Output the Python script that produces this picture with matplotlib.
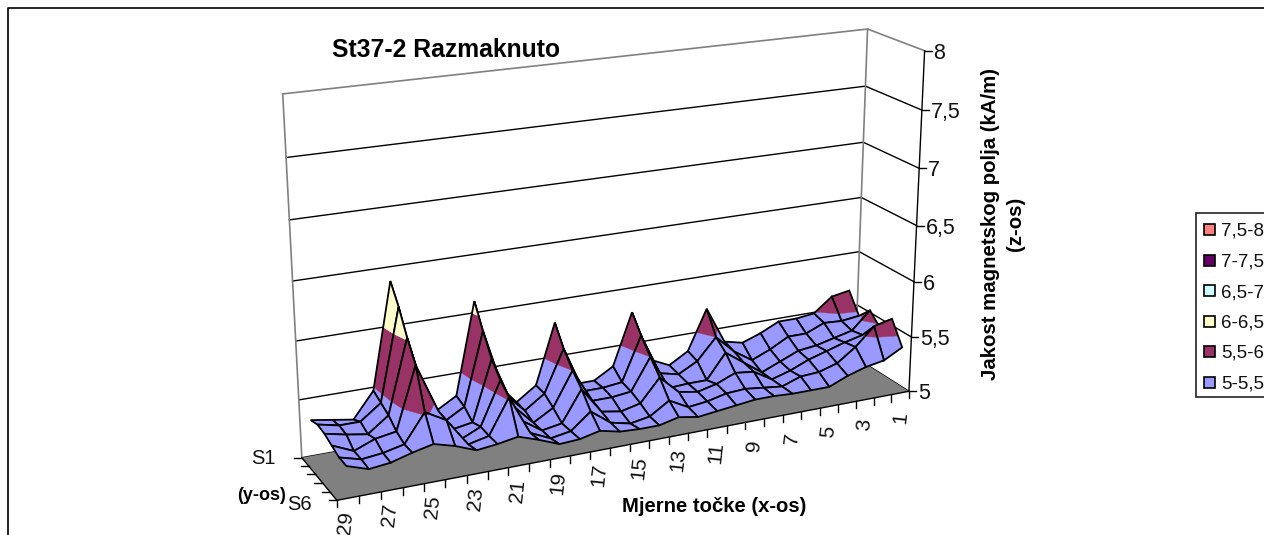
import numpy as np
import matplotlib
matplotlib.use("Agg")
import matplotlib.pyplot as plt
from matplotlib.patches import Polygon, Rectangle

plt.rcParams['font.family'] = ['Liberation Sans', 'DejaVu Sans']

# measuring points, left to right (29 ... 1)
x_points = list(range(29, 0, -1))
s1 = [5.31, 5.28, 5.25, 5.47, 6.38, 5.30, 5.20, 5.30, 6.10, 5.35, 5.15, 5.27, 5.80, 5.22, 5.22,
      5.32, 5.78, 5.32, 5.24, 5.34, 5.70, 5.37, 5.33, 5.39, 5.47, 5.47, 5.49, 5.62, 5.65]
s2 = [5.34, 5.30, 5.30, 5.43, 6.22, 5.30, 5.17, 5.27, 5.90, 5.32, 5.14, 5.26, 5.63, 5.22, 5.22,
      5.24, 5.63, 5.26, 5.22, 5.31, 5.50, 5.34, 5.23, 5.30, 5.39, 5.39, 5.46, 5.45, 5.47]
s3 = [5.33, 5.29, 5.26, 5.39, 6.02, 5.35, 5.17, 5.20, 5.72, 5.28, 5.10, 5.20, 5.50, 5.20, 5.20,
      5.22, 5.50, 5.19, 5.20, 5.20, 5.42, 5.30, 5.18, 5.25, 5.32, 5.34, 5.38, 5.42, 5.58]
s4 = [5.30, 5.22, 5.29, 5.32, 5.85, 5.43, 5.15, 5.23, 5.60, 5.22, 5.10, 5.13, 5.40, 5.17, 5.14,
      5.18, 5.38, 5.22, 5.19, 5.23, 5.30, 5.28, 5.18, 5.23, 5.30, 5.35, 5.40, 5.44, 5.47]
s5 = [5.27, 5.22, 5.24, 5.28, 5.52, 5.42, 5.18, 5.22, 5.52, 5.18, 5.10, 5.13, 5.27, 5.14, 5.10,
      5.13, 5.24, 5.15, 5.17, 5.21, 5.22, 5.20, 5.18, 5.24, 5.25, 5.30, 5.42, 5.58, 5.62]
s6 = [5.27, 5.21, 5.23, 5.28, 5.32, 5.27, 5.20, 5.22, 5.25, 5.19, 5.12, 5.13, 5.17, 5.13, 5.12,
      5.12, 5.16, 5.13, 5.15, 5.17, 5.19, 5.19, 5.18, 5.18, 5.18, 5.25, 5.30, 5.33, 5.42]
rows = [s1, s2, s3, s4, s5, s6]

z_ticks = [5, 5.5, 6, 6.5, 7, 7.5, 8]
z_labels = ['5', '5,5', '6', '6,5', '7', '7,5', '8']
bands = ['5-5,5', '5,5-6', '6-6,5', '6,5-7', '7-7,5', '7,5-8']
band_colors = ['#9999FF', '#993366', '#FFFFCC', '#CCFFFF', '#660066', '#FF8080']

# box corners on the picture, used to fit the perspective camera
box_uvw = [(0, 0, 0), (1, 0, 0), (0, 1, 0), (1, 1, 0), (0, 1, 1), (1, 1, 1), (1, 0, 1), (0, 1, .5), (1, 0, .5)]
box_px = [(337, 501), (908, 391), (302, 457), (856, 358), (283, 94), (867, 29), (925, 51), (292, 281), (917, 225)]


def fit_camera(uvw, px):
    """Least squares fit of the 3x4 projection matrix."""
    A, b = [], []
    for (u, v, w), (x, y) in zip(uvw, px):
        A.append([u, v, w, 1, 0, 0, 0, 0, -x * u, -x * v, -x * w])
        b.append(x)
        A.append([0, 0, 0, 0, u, v, w, 1, -y * u, -y * v, -y * w])
        b.append(y)
    p = np.linalg.lstsq(np.array(A, float), np.array(b, float), rcond=None)[0]
    return np.append(p, 1).reshape(3, 4)


cam = fit_camera(box_uvw, box_px)


def proj(u, v, z):
    """Chart coordinates to picture pixels."""
    h = cam @ np.array([u, v, (z - 5) / 3, 1])
    return h[0] / h[2], h[1] / h[2]


def clip(poly, lo, hi):
    """Cut a polygon of (u, v, z) points to the band lo..hi."""
    for sign, lim in ((1, lo), (-1, hi)):
        out = []
        for k in range(len(poly)):
            a, b = poly[k], poly[(k + 1) % len(poly)]
            da, db = sign * (a[2] - lim), sign * (b[2] - lim)
            if da >= 0:
                out.append(a)
            if da * db < 0:
                t = da / (da - db)
                out.append(tuple(a[m] + t * (b[m] - a[m]) for m in range(3)))
        poly = out
        if not poly:
            break
    return poly


fig = plt.figure(figsize=(12.64, 5.35), dpi=100)
ax = fig.add_axes([0, 0, 1, 1])
ax.set_xlim(0, 1264)
ax.set_ylim(535, 0)
ax.axis('off')

# chart border
ax.plot([8, 8, 1264], [535, 8, 8], color='black', lw=1.2)

# walls
for z in z_ticks[:-1]:
    pts = [proj(0, 1, z), proj(1, 1, z), proj(1, 0, z)]
    ax.plot(*zip(*pts), color='black', lw=1)
pts = [proj(0, 1, 8), proj(1, 1, 8), proj(1, 0, 8)]
ax.plot(*zip(*pts), color='#808080', lw=1.2)
ax.plot(*zip(proj(0, 1, 5), proj(0, 1, 8)), color='#808080', lw=1.2)
ax.plot(*zip(proj(1, 1, 5), proj(1, 1, 8)), color='#808080', lw=1.2)

# floor
floor = [proj(0, 0, 5), proj(1, 0, 5), proj(1, 1, 5), proj(0, 1, 5)]
ax.add_patch(Polygon(floor, closed=True, fc='#808080', ec='none', zorder=2))
ax.plot(*zip(proj(0, 0, 5), proj(1, 0, 5)), color='black', lw=1, zorder=3)

# axis lines, ticks and labels
ax.plot(*zip(proj(1, 0, 5), proj(1, 0, 8)), color='black', lw=1, zorder=3)
for z, lab in zip(z_ticks, z_labels):
    x, y = proj(1, 0, z)
    ax.plot([x, x + 7], [y, y], color='black', lw=1)
    ax.text(x + 9, y, lab, fontsize=15.5, ha='left', va='center_baseline', color='#111111')

ax.plot(*zip(proj(0, 0, 5), proj(0, 1, 5)), color='black', lw=1, zorder=3)
for j in range(len(rows)):
    x, y = proj(0, 1 - j / (len(rows) - 1), 5)
    ax.plot([x - 8, x], [y, y], color='black', lw=1)
ax.text(251, 457, 'S1', fontsize=14.5, ha='left', va='center_baseline', color='#111111')
ax.text(287, 502, 'S6', fontsize=14.5, ha='left', va='center_baseline', color='#111111')

nx = len(x_points)
for i in range(nx + 1):
    x, y = proj(i / nx, 0, 5)
    ax.plot([x, x], [y, y + 7], color='black', lw=1, zorder=3)
for i, lab in enumerate(x_points):
    if lab % 2 == 1:
        x, y = proj(i / nx, 0, 5)
        ax.text(x + 9, y + 23, str(lab), fontsize=15, rotation=84, ha='center', va='center',
                color='#111111', rotation_mode='anchor')

# surface, painted from the far right corner to the near left one
order = 10
for j in range(len(rows) - 1):
    for i in range(nx - 2, -1, -1):
        cell = []
        for ii, jj in ((i, j), (i + 1, j), (i + 1, j + 1), (i, j + 1)):
            cell.append(((ii + .5) / nx, 1 - jj / (len(rows) - 1), rows[jj][ii]))
        for b, col in enumerate(band_colors):
            piece = clip(cell, z_ticks[b], z_ticks[b + 1])
            if len(piece) > 2:
                ax.add_patch(Polygon([proj(*p) for p in piece], closed=True, fc=col, ec=col,
                                     lw=.3, zorder=order))
        order += 1
        ax.add_patch(Polygon([proj(*p) for p in cell], closed=True, fc='none', ec='black',
                             lw=1.3, zorder=order))
        order += 1

# texts
ax.text(332, 50, 'St37-2 Razmaknuto', fontsize=17.8, fontweight='bold', ha='left', va='center')
ax.text(622, 507, 'Mjerne točke (x-os)', fontsize=14.6, fontweight='bold', ha='left', va='center')
ax.text(237, 495, '(y-os)', fontsize=13, fontweight='bold', ha='left', va='center')
ax.text(1003, 224, 'Jakost magnetskog polja (kA/m)\n(z-os)', fontsize=14.7, fontweight='bold', rotation=90,
        ha='center', va='center', multialignment='center', linespacing=1.45)

# legend
ax.add_patch(Rectangle((1196, 213), 80, 184, fc='white', ec='#222222', lw=1.2))
for k, (lab, col) in enumerate(zip(bands, band_colors)):
    y = 382 - k * 30.5
    ax.add_patch(Rectangle((1204, y - 5.5), 11, 11, fc=col, ec='black', lw=1.2))
    ax.text(1221, y, lab, fontsize=13.5, ha='left', va='center_baseline', color='#111111')

fig.savefig('out.png', dpi=100)
